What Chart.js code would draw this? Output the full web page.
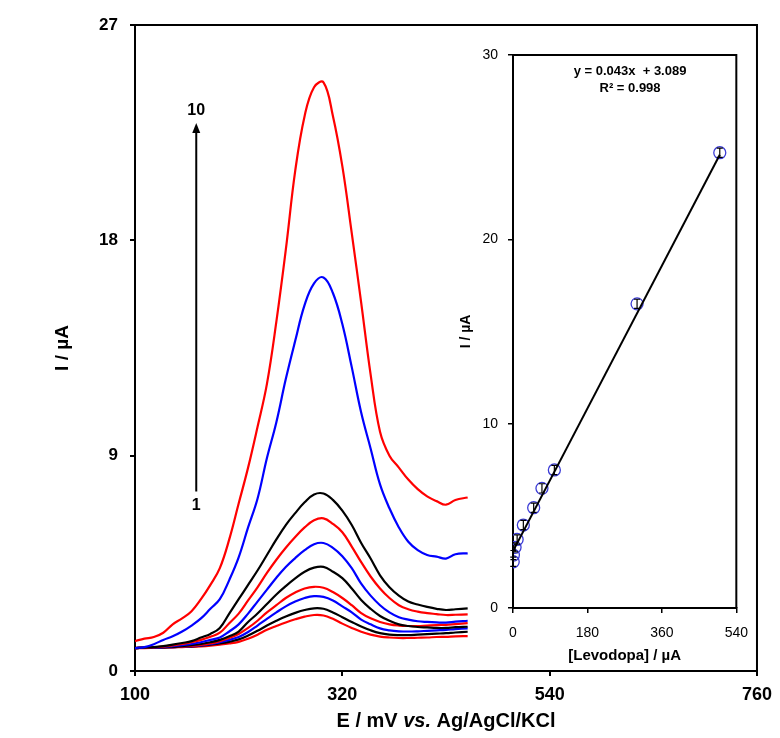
<!DOCTYPE html>
<html>
<head>
<meta charset="utf-8">
<script src="https://cdn.jsdelivr.net/npm/chart.js@4.4.1/dist/chart.umd.min.js"></script>
<style>
html, body { margin: 0; padding: 0; background: #fff; }
#wrap { position: relative; width: 780px; height: 738px; overflow: hidden; }
#main { position: absolute; left: 0; top: 0; }
#inset { position: absolute; left: 430px; top: 30px; }
</style>
</head>
<body>
<div id="wrap">
  <canvas id="main" width="780" height="738"></canvas>
  <canvas id="inset" width="330" height="640"></canvas>
</div>
<script>
// potential axis (mV vs. Ag/AgCl/KCl)
var potential = [100,110,120,130,140,150,160,170,180,190,200,210,220,230,240,250,260,270,280,
                 290,300,310,320,330,340,350,360,370,380,390,400,410,420,430,440,453];

// DPV currents (uA), curve 1 (lowest) .. curve 10 (highest)
var curve1 = [0.96,0.96,0.97,0.98,0.99,1.00,1.01,1.03,1.06,1.10,1.15,1.22,1.35,1.52,1.72,1.88,2.03,2.16,2.27,
              2.34,2.32,2.18,1.98,1.80,1.64,1.52,1.44,1.40,1.38,1.38,1.39,1.40,1.42,1.43,1.45,1.46];
var curve2 = [0.96,0.97,0.98,0.99,1.00,1.01,1.03,1.06,1.10,1.15,1.22,1.32,1.48,1.68,1.90,2.10,2.28,2.43,2.55,
              2.62,2.60,2.45,2.25,2.05,1.86,1.70,1.58,1.52,1.50,1.50,1.52,1.54,1.56,1.58,1.61,1.64];
var curve3 = [0.96,0.97,0.98,0.99,1.00,1.02,1.04,1.07,1.12,1.20,1.30,1.42,1.63,1.90,2.18,2.45,2.70,2.90,3.05,
              3.13,3.10,2.95,2.70,2.45,2.15,1.95,1.78,1.70,1.66,1.65,1.66,1.68,1.70,1.72,1.75,1.78];
var curve4 = [0.96,0.97,0.98,0.99,1.00,1.02,1.05,1.09,1.15,1.25,1.38,1.55,1.80,2.10,2.45,2.75,3.05,3.28,3.45,
              3.52,3.48,3.30,3.05,2.75,2.42,2.20,2.05,1.95,1.90,1.88,1.88,1.90,1.92,1.93,1.96,2.00];
var curve5 = [0.96,0.97,0.98,0.99,1.01,1.04,1.08,1.13,1.20,1.30,1.45,1.65,2.05,2.40,2.80,3.20,3.55,3.87,4.15,
              4.32,4.35,4.15,3.88,3.45,2.97,2.60,2.30,2.10,1.95,1.88,1.84,1.82,1.80,1.80,1.83,1.85];
var curve6 = [0.96,0.97,0.98,1.00,1.04,1.08,1.13,1.20,1.30,1.40,1.65,1.95,2.40,2.90,3.40,3.90,4.35,4.72,5.05,
              5.30,5.35,5.15,4.80,4.30,3.65,3.15,2.75,2.45,2.25,2.15,2.08,2.05,2.03,2.02,2.06,2.10];
var curve7 = [0.96,0.97,0.99,1.02,1.07,1.13,1.20,1.30,1.43,1.60,2.00,2.40,2.95,3.50,4.10,4.65,5.15,5.60,6.00,
              6.30,6.38,6.15,5.80,5.20,4.55,3.95,3.45,3.05,2.75,2.58,2.48,2.42,2.38,2.34,2.35,2.37];
var curve8 = [0.96,0.98,1.00,1.04,1.10,1.17,1.25,1.40,1.55,1.80,2.40,3.00,3.60,4.20,4.85,5.50,6.10,6.60,7.05,
              7.38,7.42,7.15,6.70,6.10,5.35,4.70,4.00,3.50,3.15,2.90,2.78,2.68,2.60,2.55,2.58,2.62];
var curve9 = [0.96,1.00,1.12,1.30,1.45,1.65,1.90,2.20,2.60,3.00,3.80,4.75,6.00,7.20,8.90,10.40,12.20,13.80,15.30,
              16.20,16.45,15.80,14.50,12.70,10.80,9.30,7.80,6.80,6.00,5.40,5.05,4.85,4.78,4.70,4.88,4.92];
var curve10 = [1.25,1.35,1.42,1.60,1.95,2.20,2.50,3.00,3.60,4.30,5.50,7.00,8.50,10.20,12.00,14.60,17.60,20.90,23.20,
               24.40,24.60,23.20,21.10,18.30,15.40,12.40,10.00,9.00,8.50,8.00,7.60,7.30,7.10,6.95,7.15,7.25];
var curves = [curve1, curve2, curve3, curve4, curve5, curve6, curve7, curve8, curve9, curve10];
var curveColors = ['#ff0000', '#000000', '#0000ff', '#ff0000', '#000000', '#0000ff', '#ff0000', '#000000', '#0000ff', '#ff0000'];

var xTicks = [100, 320, 540, 760];
var yTicks = [0, 9, 18, 27];

// inset: calibration plot
var levodopa = [0.5, 1, 5, 10, 25, 50, 70, 100, 300, 500];
var peakCurrent = [2.51, 2.87, 3.29, 3.72, 4.50, 5.44, 6.49, 7.49, 16.5, 24.7];
var peakError = [0.25, 0.25, 0.25, 0.25, 0.25, 0.25, 0.25, 0.25, 0.25, 0.25];
var fitSlope = 0.043, fitIntercept = 3.089;
var insetXTicks = [0, 180, 360, 540];
var insetYTicks = [0, 10, 20, 30];

// arrow annotation in data units
var arrowE = 165, arrowFrom = 7.5, arrowTo = 22.9;

var FONT = '"Liberation Sans", Arial, sans-serif';

function pairs(xs, ys) {
    return xs.map(function (x, i) { return { x: x, y: ys[i] }; });
}

var frameBox = {
    id: 'frameBox',
    afterDraw: function (chart) {
        var a = chart.chartArea, ctx = chart.ctx;
        ctx.save();
        ctx.strokeStyle = '#000';
        ctx.lineWidth = 2;
        ctx.beginPath();
        ctx.moveTo(a.left, a.top);
        ctx.lineTo(a.right, a.top);
        ctx.lineTo(a.right, a.bottom);
        ctx.stroke();
        ctx.restore();
    }
};

var mainExtras = {
    id: 'mainExtras',
    afterDraw: function (chart) {
        var ctx = chart.ctx, xs = chart.scales.x, ys = chart.scales.y;
        var ax = xs.getPixelForValue(arrowE);
        var y0 = ys.getPixelForValue(arrowFrom), y1 = ys.getPixelForValue(arrowTo);
        ctx.save();
        ctx.strokeStyle = '#000';
        ctx.fillStyle = '#000';
        ctx.lineWidth = 2;
        ctx.beginPath();
        ctx.moveTo(ax, y0);
        ctx.lineTo(ax, y1 + 8);
        ctx.stroke();
        ctx.beginPath();
        ctx.moveTo(ax, y1);
        ctx.lineTo(ax - 4, y1 + 10);
        ctx.lineTo(ax + 4, y1 + 10);
        ctx.closePath();
        ctx.fill();
        ctx.font = 'bold 16px ' + FONT;
        ctx.textAlign = 'center';
        ctx.textBaseline = 'middle';
        ctx.fillText('10', ax, y1 - 13);
        ctx.fillText('1', ax, y0 + 14);

        // x axis title with italic "vs."
        var parts = [['bold ', 'E / mV '], ['italic bold ', 'vs.'], ['bold ', ' Ag/AgCl/KCl']];
        var total = 0;
        parts.forEach(function (p) { ctx.font = p[0] + '20px ' + FONT; total += ctx.measureText(p[1]).width; });
        var cx = (chart.chartArea.left + chart.chartArea.right) / 2 - total / 2;
        ctx.textAlign = 'left';
        ctx.textBaseline = 'middle';
        parts.forEach(function (p) {
            ctx.font = p[0] + '20px ' + FONT;
            ctx.fillText(p[1], cx, 721);
            cx += ctx.measureText(p[1]).width;
        });
        ctx.restore();
    }
};

var datasets = curves.map(function (c, i) {
    return {
        label: 'Curve ' + (i + 1),
        data: pairs(potential, c),
        borderColor: curveColors[i],
        borderWidth: 2.2,
        pointRadius: 0,
        tension: 0.4,
        fill: false
    };
});
datasets.reverse();

new Chart(document.getElementById('main'), {
    type: 'line',
    data: { datasets: datasets },
    options: {
        responsive: false,
        animation: false,
        layout: { padding: { left: 0, right: 19, top: 25, bottom: 0 } },
        plugins: { legend: { display: false }, tooltip: { enabled: false } },
        scales: {
            x: {
                type: 'linear',
                min: 100, max: 760,
                afterBuildTicks: function (s) { s.ticks = xTicks.map(function (v) { return { value: v }; }); },
                afterFit: function (s) { s.height = 67; },
                grid: { drawOnChartArea: false, tickLength: 5, color: '#000', lineWidth: 2 },
                border: { color: '#000', width: 2 },
                ticks: { color: '#000', padding: 8, maxRotation: 0, font: { family: FONT, size: 18, weight: 'bold' } }
            },
            y: {
                min: 0, max: 27,
                afterBuildTicks: function (s) { s.ticks = yTicks.map(function (v) { return { value: v }; }); },
                afterFit: function (s) { s.width = 135; },
                grid: { drawOnChartArea: false, tickLength: 5, color: '#000', lineWidth: 2 },
                border: { color: '#000', width: 2 },
                ticks: { color: '#000', padding: 12, font: { family: FONT, size: 17, weight: 'bold' } },
                title: { display: true, text: 'I / µA', color: '#000', padding: { top: 51, bottom: 51 },
                         font: { family: FONT, size: 19, weight: 'bold' } }
            }
        }
    },
    plugins: [frameBox, mainExtras]
});

var insetExtras = {
    id: 'insetExtras',
    afterDatasetsDraw: function (chart) {
        var ctx = chart.ctx, xs = chart.scales.x, ys = chart.scales.y;
        ctx.save();
        ctx.strokeStyle = '#000';
        ctx.lineWidth = 1.2;
        levodopa.forEach(function (c, i) {
            var px = xs.getPixelForValue(c);
            var top = ys.getPixelForValue(peakCurrent[i] + peakError[i]);
            var bot = ys.getPixelForValue(peakCurrent[i] - peakError[i]);
            ctx.beginPath();
            ctx.moveTo(px, top); ctx.lineTo(px, bot);
            ctx.moveTo(px - 3, top); ctx.lineTo(px + 3, top);
            ctx.moveTo(px - 3, bot); ctx.lineTo(px + 3, bot);
            ctx.stroke();
        });
        ctx.fillStyle = '#000';
        ctx.font = 'bold 13px ' + FONT;
        ctx.textAlign = 'center';
        ctx.textBaseline = 'middle';
        var cx = xs.getPixelForValue(283);
        ctx.fillText('y = 0.043x  + 3.089', cx, chart.chartArea.top + 16);
        ctx.fillText('R² = 0.998', cx, chart.chartArea.top + 33);
        ctx.restore();
    }
};

var fitEnds = [0, levodopa[levodopa.length - 1]];

new Chart(document.getElementById('inset'), {
    type: 'scatter',
    data: {
        datasets: [{
            label: 'Fit',
            data: fitEnds.map(function (x) { return { x: x, y: fitSlope * x + fitIntercept }; }),
            showLine: true,
            borderColor: '#000',
            borderWidth: 2,
            pointRadius: 0
        }, {
            label: 'Levodopa',
            data: pairs(levodopa, peakCurrent),
            pointStyle: 'circle',
            pointRadius: 6,
            borderColor: '#3b3bd6',
            backgroundColor: 'rgba(0,0,0,0)',
            pointBorderWidth: 1.3,
            showLine: false
        }]
    },
    options: {
        responsive: false,
        animation: false,
        layout: { padding: { left: 0, right: 22, top: 25, bottom: 0 } },
        plugins: { legend: { display: false }, tooltip: { enabled: false } },
        scales: {
            x: {
                type: 'linear',
                min: 0, max: 540,
                afterBuildTicks: function (s) { s.ticks = insetXTicks.map(function (v) { return { value: v }; }); },
                afterFit: function (s) { s.height = 62; },
                grid: { drawOnChartArea: false, tickLength: 5, color: '#000', lineWidth: 1.5 },
                border: { color: '#000', width: 2 },
                ticks: { color: '#000', padding: 12, maxRotation: 0, font: { family: FONT, size: 14 } },
                title: { display: true, text: '[Levodopa] / µA', color: '#000', padding: { top: 5, bottom: 5 },
                         font: { family: FONT, size: 15, weight: 'bold' } }
            },
            y: {
                min: 0, max: 30,
                afterBuildTicks: function (s) { s.ticks = insetYTicks.map(function (v) { return { value: v }; }); },
                afterFit: function (s) { s.width = 83; },
                grid: { drawOnChartArea: false, tickLength: 5, color: '#000', lineWidth: 1.5 },
                border: { color: '#000', width: 2 },
                ticks: { color: '#000', padding: 10, font: { family: FONT, size: 14 } },
                title: { display: true, text: 'I / µA', color: '#000', padding: { top: 28, bottom: 28 },
                         font: { family: FONT, size: 14, weight: 'bold' } }
            }
        }
    },
    plugins: [frameBox, insetExtras]
});
</script>
</body>
</html>
